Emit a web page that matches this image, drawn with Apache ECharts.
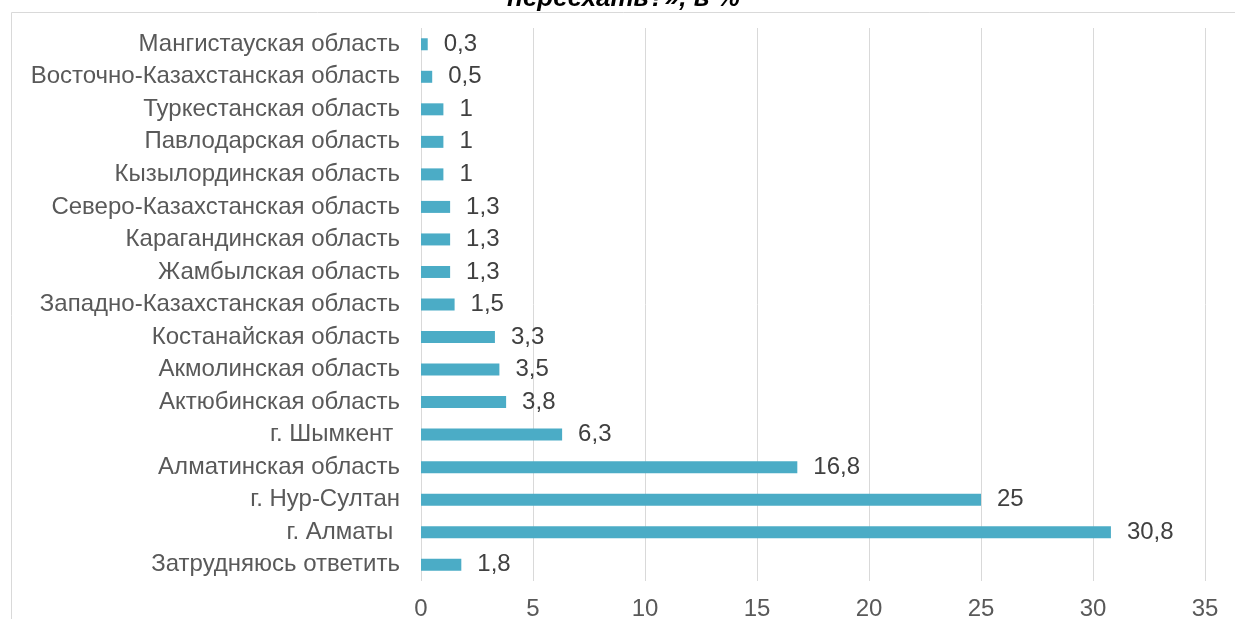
<!DOCTYPE html>
<html><head><meta charset="utf-8">
<script src="https://cdn.jsdelivr.net/npm/echarts@6/dist/echarts.min.js"></script>
<style>html,body{margin:0;padding:0;background:#fff}#c{width:1235px;height:619px}</style>
</head><body><div id="c"></div>
<script>
const categories = [
  "Мангистауская область",
  "Восточно-Казахстанская область",
  "Туркестанская область",
  "Павлодарская область",
  "Кызылординская область",
  "Северо-Казахстанская область",
  "Карагандинская область",
  "Жамбылская область",
  "Западно-Казахстанская область",
  "Костанайская область",
  "Акмолинская область",
  "Актюбинская область",
  "г. Шымкент ",
  "Алматинская область",
  "г. Нур-Султан",
  "г. Алматы ",
  "Затрудняюсь ответить"
];
const values = [0.3, 0.5, 1, 1, 1, 1.3, 1.3, 1.3, 1.5, 3.3, 3.5, 3.8, 6.3, 16.8, 25, 30.8, 1.8];
const titleText = "переехать?», в %";

const chart = echarts.init(document.getElementById('c'));
const font = "Liberation Sans, Arial, sans-serif";
chart.setOption({
  animation: false,
  grid: { left: 421, right: 30, top: 28, height: 553, containLabel: false, outerBoundsMode: 'none' },
  xAxis: {
    type: 'value', min: 0, max: 35, interval: 5,
    position: 'bottom',
    axisLine: { show: false }, axisTick: { show: false },
    splitLine: { show: true, lineStyle: { color: '#d9d9d9', width: 1 } },
    axisLabel: { color: '#595959', fontSize: 24, fontFamily: font, margin: 16 }
  },
  yAxis: {
    type: 'category', data: categories, inverse: true,
    axisLine: { show: false }, axisTick: { show: false },
    axisLabel: { color: '#595959', fontSize: 24, fontFamily: font, margin: 21 }
  },
  series: [{
    type: 'bar', data: values, barWidth: 12,
    itemStyle: { color: '#4BACC6' },
    label: {
      show: true, position: 'right', distance: 16,
      color: '#404040', fontSize: 24, fontFamily: font,
      formatter: p => String(p.value).replace('.', ',')
    }
  }],
  graphic: [
    { type: 'line', shape: { x1: 11.5, y1: 12.5, x2: 1235, y2: 12.5 }, style: { stroke: '#d9d9d9', lineWidth: 1 } },
    { type: 'line', shape: { x1: 11.5, y1: 12.5, x2: 11.5, y2: 619 }, style: { stroke: '#d9d9d9', lineWidth: 1 } },
    { type: 'text', left: 507, top: -14, style: { text: titleText, fill: '#000', font: 'italic bold 26px ' + font } }
  ]
});
</script></body></html>
